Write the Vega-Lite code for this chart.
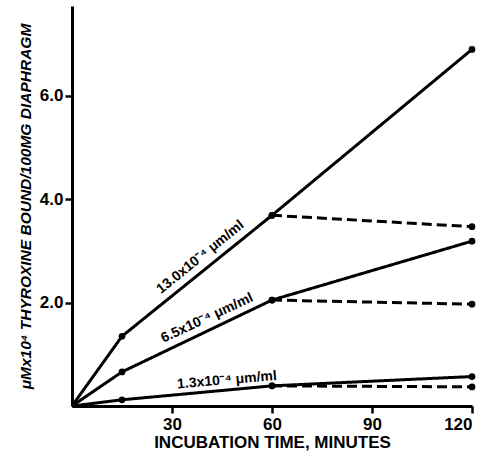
{
  "$schema": "https://vega.github.io/schema/vega-lite/v6.json",
  "autosize": "none",
  "width": 400,
  "height": 400,
  "padding": {"left": 72, "top": 6, "right": 13, "bottom": 47},
  "background": "white",
  "config": {
    "view": {"stroke": null},
    "font": "Liberation Sans",
    "axis": {
      "grid": false,
      "domainColor": "black",
      "domainWidth": 3,
      "tickColor": "black",
      "tickWidth": 2.5,
      "tickSize": 7,
      "labelColor": "black",
      "labelFont": "Liberation Sans",
      "labelFontSize": 17,
      "labelFontWeight": "bold",
      "titleColor": "black",
      "titleFont": "Liberation Sans",
      "titleFontWeight": "bold"
    }
  },
  "datasets": {
    "curves": [
      {"conc": "13.0", "line": "13.0 solid", "style": "solid", "time": 0, "value": 0},
      {"conc": "13.0", "line": "13.0 solid", "style": "solid", "time": 15, "value": 1.35},
      {"conc": "13.0", "line": "13.0 solid", "style": "solid", "time": 60, "value": 3.69},
      {"conc": "13.0", "line": "13.0 solid", "style": "solid", "time": 120, "value": 6.9},
      {"conc": "13.0", "line": "13.0 dashed", "style": "dashed", "time": 60, "value": 3.69},
      {"conc": "13.0", "line": "13.0 dashed", "style": "dashed", "time": 120, "value": 3.47},
      {"conc": "6.5", "line": "6.5 solid", "style": "solid", "time": 0, "value": 0},
      {"conc": "6.5", "line": "6.5 solid", "style": "solid", "time": 15, "value": 0.66},
      {"conc": "6.5", "line": "6.5 solid", "style": "solid", "time": 60, "value": 2.05},
      {"conc": "6.5", "line": "6.5 solid", "style": "solid", "time": 120, "value": 3.19},
      {"conc": "6.5", "line": "6.5 dashed", "style": "dashed", "time": 60, "value": 2.05},
      {"conc": "6.5", "line": "6.5 dashed", "style": "dashed", "time": 120, "value": 1.97},
      {"conc": "1.3", "line": "1.3 solid", "style": "solid", "time": 0, "value": 0},
      {"conc": "1.3", "line": "1.3 solid", "style": "solid", "time": 15, "value": 0.12},
      {"conc": "1.3", "line": "1.3 solid", "style": "solid", "time": 60, "value": 0.39},
      {"conc": "1.3", "line": "1.3 solid", "style": "solid", "time": 120, "value": 0.57},
      {"conc": "1.3", "line": "1.3 dashed", "style": "dashed", "time": 60, "value": 0.39},
      {"conc": "1.3", "line": "1.3 dashed", "style": "dashed", "time": 120, "value": 0.37}
    ],
    "labels": [
      {"label": "13.0x10⁻⁴ μm/ml", "time": 38.5, "value": 2.88},
      {"label": "6.5x10⁻⁴ μm/ml", "time": 40.5, "value": 1.7},
      {"label": "1.3x10⁻⁴ μm/ml", "time": 46.5, "value": 0.5}
    ]
  },
  "layer": [
    {
      "data": {"name": "curves"},
      "mark": {"type": "line", "color": "black", "strokeWidth": 3, "strokeCap": "butt"},
      "encoding": {
        "x": {
          "field": "time", "type": "quantitative",
          "scale": {"domain": [0, 120], "nice": false},
          "axis": {"values": [30, 60, 90, 120], "title": "INCUBATION TIME, MINUTES", "titleFontSize": 17, "titlePadding": 2, "labelPadding": 3}
        },
        "y": {
          "field": "value", "type": "quantitative",
          "scale": {"domain": [0, 7.74], "nice": false},
          "axis": {"values": [2, 4, 6], "format": ".1f", "title": "μMx10⁴ THYROXINE BOUND/100MG DIAPHRAGM", "titleFontSize": 15.5, "titleFontStyle": "italic", "titlePadding": 6, "labelPadding": 2}
        },
        "detail": {"field": "line"},
        "strokeDash": {
          "field": "style", "type": "nominal",
          "scale": {"domain": ["solid", "dashed"], "range": [[1, 0], [10, 5]]},
          "legend": null
        }
      }
    },
    {
      "data": {"name": "curves"},
      "transform": [{"filter": "datum.time > 0"}],
      "mark": {"type": "circle", "color": "black", "opacity": 1, "size": 45},
      "encoding": {
        "x": {"field": "time", "type": "quantitative"},
        "y": {"field": "value", "type": "quantitative"}
      }
    },
    {
      "data": {"name": "labels"},
      "transform": [{"filter": "datum.label == '13.0x10⁻⁴ μm/ml'"}],
      "mark": {"type": "text", "angle": 321, "fontSize": 14, "fontWeight": "bold", "color": "black"},
      "encoding": {
        "x": {"field": "time", "type": "quantitative"},
        "y": {"field": "value", "type": "quantitative"},
        "text": {"field": "label"}
      }
    },
    {
      "data": {"name": "labels"},
      "transform": [{"filter": "datum.label == '6.5x10⁻⁴ μm/ml'"}],
      "mark": {"type": "text", "angle": 335, "fontSize": 14, "fontWeight": "bold", "color": "black"},
      "encoding": {
        "x": {"field": "time", "type": "quantitative"},
        "y": {"field": "value", "type": "quantitative"},
        "text": {"field": "label"}
      }
    },
    {
      "data": {"name": "labels"},
      "transform": [{"filter": "datum.label == '1.3x10⁻⁴ μm/ml'"}],
      "mark": {"type": "text", "angle": 355, "fontSize": 14, "fontWeight": "bold", "color": "black"},
      "encoding": {
        "x": {"field": "time", "type": "quantitative"},
        "y": {"field": "value", "type": "quantitative"},
        "text": {"field": "label"}
      }
    }
  ]
}
